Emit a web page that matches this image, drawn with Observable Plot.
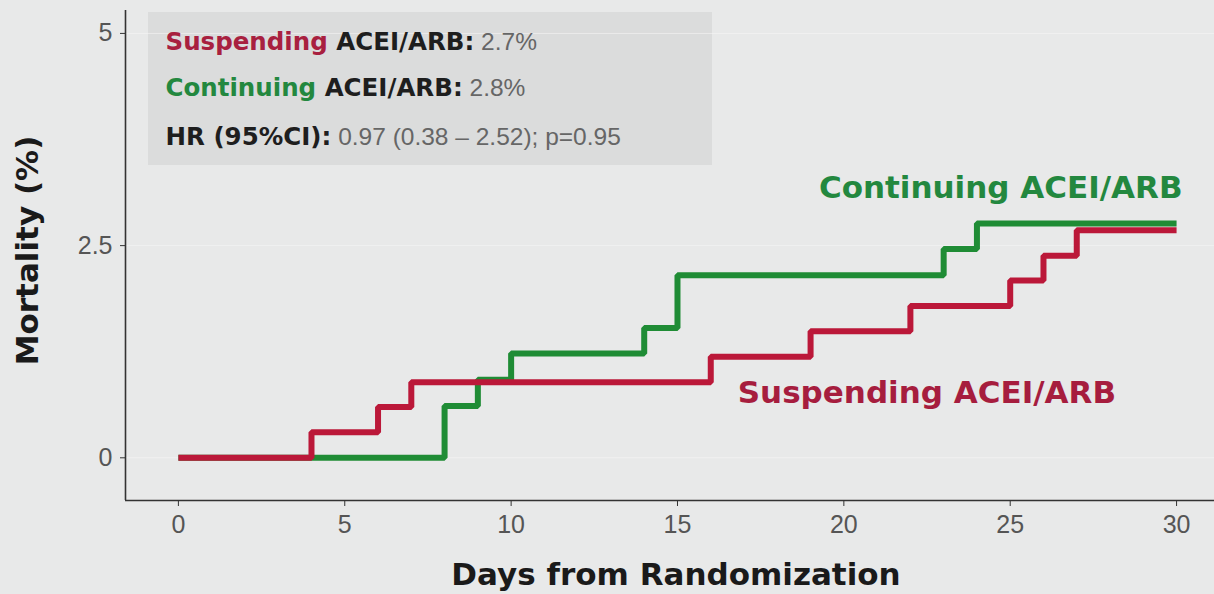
<!DOCTYPE html>
<html>
<head>
<meta charset="utf-8">
<script src="https://cdn.jsdelivr.net/npm/d3@7"></script>
<script src="https://cdn.jsdelivr.net/npm/@observablehq/plot@0.6"></script>
<style>
  html, body { margin: 0; padding: 0; background: #e8e9e9; }
  #chart { width: 1214px; height: 594px; }
</style>
</head>
<body>
<div id="chart"></div>
<script>
// ---- data ----
const suspendDays = [0, 4, 6, 7, 16, 19, 22, 25, 26, 27, 30];
const suspendMortality = [0, 0.30, 0.60, 0.89, 1.19, 1.49, 1.79, 2.09, 2.38, 2.68, 2.68];
const continueDays = [0, 8, 9, 10, 14, 15, 23, 24, 30];
const continueMortality = [0, 0.61, 0.92, 1.23, 1.53, 2.15, 2.46, 2.76, 2.76];
const xTicks = [0, 5, 10, 15, 20, 25, 30];
const yTicks = [0, 2.5, 5];
const seriesNames = ["Suspending ACEI/ARB", "Continuing ACEI/ARB"];
const annotationLines = [
  [["Suspending", "red", 700], [" ACEI/ARB:", "dark", 700], [" 2.7%", "gray", 400]],
  [["Continuing", "green", 700], [" ACEI/ARB:", "dark", 700], [" 2.8%", "gray", 400]],
  [["HR (95%CI):", "dark", 700], [" 0.97 (0.38 \u2013 2.52); p=0.95", "gray", 400]]
];
const xTitle = "Days from Randomization";
const yTitle = "Mortality (%)";

// ---- styles ----
const RED = "#bb1839", GREEN = "#1f8c35";
const textColors = {red: "#a8203f", green: "#23883f", dark: "#1e1e1e", gray: "#666"};
const BOLD = "DejaVu Sans";

const suspend = suspendDays.map((d, i) => ({day: d, m: suspendMortality[i]}));
const cont = continueDays.map((d, i) => ({day: d, m: continueMortality[i]}));

const xDomain = [-1.59, 31.14];
const yDomain = [-0.503, 5.27];

const lineTexts = annotationLines.map(parts => parts.map(p => p[0]).join(""));

const plot = Plot.plot({
  width: 1214,
  height: 594,
  marginLeft: 125,
  marginRight: 0,
  marginTop: 10,
  marginBottom: 94,
  style: {background: "transparent", fontFamily: "Liberation Sans, Arial, sans-serif"},
  x: {domain: xDomain},
  y: {domain: yDomain},
  marks: [
    // annotation box
    Plot.rect([0], {fill: "#dbdcdc", insetLeft: 23, insetTop: 2, insetRight: 502, insetBottom: 335}),
    Plot.gridY(yTicks, {stroke: "#f6f6f6", strokeOpacity: 0.6, strokeWidth: 1}),
    Plot.ruleX([xDomain[0]], {stroke: "#333", strokeWidth: 1.6}),
    Plot.ruleY([yDomain[0]], {stroke: "#333", strokeWidth: 1.6}),
    Plot.axisX(xTicks, {tickSize: 6, tickPadding: 9, fontSize: 25, fill: "#555", stroke: "#333", label: null}),
    Plot.axisY(yTicks, {tickSize: 5, tickPadding: 8, fontSize: 25, fill: "#555", stroke: "#333", label: null, tickFormat: d => String(d)}),
    Plot.line(cont, {x: "day", y: "m", curve: "step-after", stroke: GREEN, strokeWidth: 6, strokeLinejoin: "miter", strokeLinecap: "butt"}),
    Plot.line(suspend, {x: "day", y: "m", curve: "step-after", stroke: RED, strokeWidth: 6, strokeLinejoin: "miter", strokeLinecap: "butt"}),
    // series labels
    Plot.text(cont.slice(-1), {x: "day", y: "m", text: () => seriesNames[1], textAnchor: "end", dx: 6, dy: -35, fill: "#23883f", fontSize: 31, fontWeight: "bold", fontFamily: BOLD}),
    Plot.text(suspend.filter(d => d.day === 16), {x: "day", y: "m", text: () => seriesNames[0], textAnchor: "start", dx: 27, dy: 36, fill: "#a61d3e", fontSize: 31, fontWeight: "bold", fontFamily: BOLD}),
    // annotation lines
    ...lineTexts.map((t, i) => Plot.text([t], {text: d => d, frameAnchor: "top-left", textAnchor: "start", lineAnchor: "middle", dx: 40, dy: [32, 78, 127][i], fontSize: 24.5, fontFamily: BOLD, fill: "#222"})),
    // axis titles
    Plot.text([xTitle], {text: d => d, frameAnchor: "bottom", textAnchor: "middle", lineAnchor: "middle", dx: 6, dy: 75, fontSize: 31, fontWeight: "bold", fontFamily: BOLD, fill: "#1a1a1a"}),
    Plot.text([yTitle], {text: d => d, frameAnchor: "left", textAnchor: "middle", lineAnchor: "middle", rotate: -90, dx: -97, dy: -5, fontSize: 31, fontWeight: "bold", fontFamily: BOLD, fill: "#1a1a1a"})
  ]
});

// split annotation lines into coloured runs
d3.select(plot).selectAll("text").each(function() {
  const idx = lineTexts.indexOf(this.textContent);
  if (idx < 0) return;
  const el = d3.select(this);
  el.text(null);
  for (const [str, col, w] of annotationLines[idx]) {
    el.append("tspan").text(str).attr("fill", textColors[col]).attr("font-weight", w)
      .attr("font-family", w === 700 ? BOLD : "Liberation Sans, Arial, sans-serif");
  }
});

document.getElementById("chart").appendChild(plot);
</script>
</body>
</html>
